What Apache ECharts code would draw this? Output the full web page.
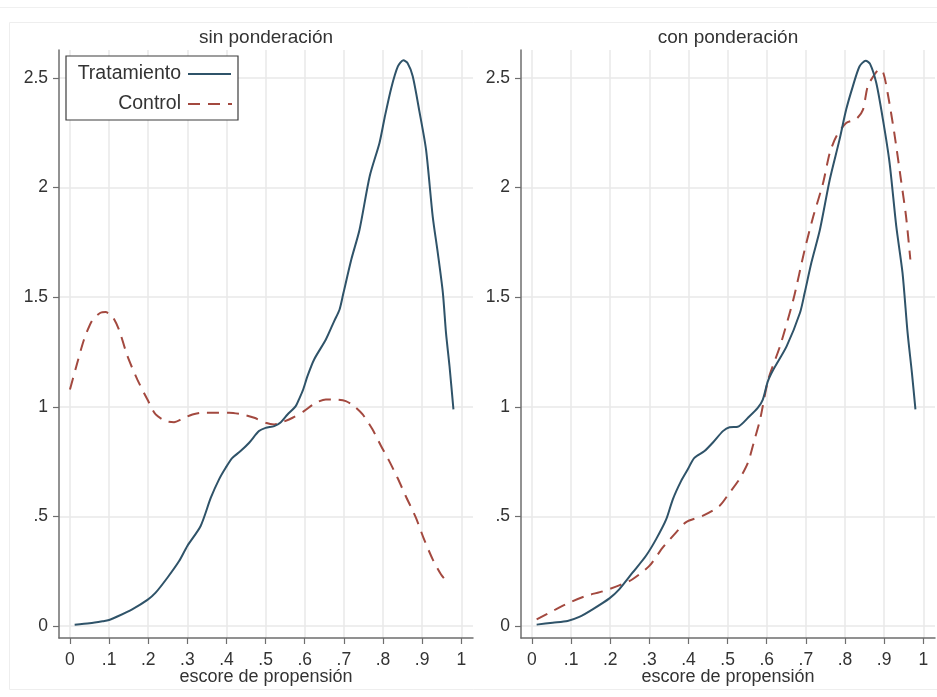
<!DOCTYPE html>
<html>
<head>
<meta charset="utf-8">
<script src="https://cdn.jsdelivr.net/npm/echarts@6/dist/echarts.min.js"></script>
<style>
html,body{margin:0;padding:0;background:#fff;}
#chart{width:937px;height:697px;}
</style>
</head>
<body>
<div id="chart"></div>
<script>
// ---- data ----
const panelTitles = ['sin ponderación', 'con ponderación'];
const seriesNames = ['Tratamiento', 'Control'];
const xTicks = [0, 0.1, 0.2, 0.3, 0.4, 0.5, 0.6, 0.7, 0.8, 0.9, 1];
const yTicks = [0, 0.5, 1, 1.5, 2, 2.5];
const xAxisTitle = 'escore de propensión';

const tratSin = [[0.012,0.006],[0.05,0.012],[0.083,0.021],[0.1,0.027],[0.121,0.043],[0.159,0.076],[0.198,0.119],[0.219,0.152],[0.249,0.22],[0.279,0.296],[0.3,0.365],[0.334,0.456],[0.36,0.585],[0.381,0.669],[0.398,0.722],[0.415,0.767],[0.436,0.798],[0.458,0.836],[0.483,0.889],[0.5,0.904],[0.522,0.912],[0.539,0.93],[0.556,0.965],[0.577,1.003],[0.587,1.041],[0.596,1.079],[0.607,1.14],[0.624,1.216],[0.654,1.307],[0.675,1.39],[0.689,1.444],[0.699,1.52],[0.719,1.672],[0.74,1.808],[0.766,2.052],[0.791,2.204],[0.804,2.318],[0.821,2.454],[0.838,2.553],[0.852,2.581],[0.863,2.568],[0.876,2.508],[0.893,2.348],[0.91,2.173],[0.927,1.869],[0.94,1.702],[0.953,1.52],[0.961,1.337],[0.97,1.185],[0.98,0.988]];

const ctrlSin = [[0.0,1.079],[0.014,1.17],[0.036,1.307],[0.057,1.395],[0.078,1.429],[0.091,1.432],[0.108,1.413],[0.125,1.353],[0.147,1.231],[0.172,1.125],[0.198,1.033],[0.219,0.965],[0.245,0.935],[0.266,0.93],[0.287,0.945],[0.313,0.965],[0.338,0.973],[0.373,0.973],[0.407,0.973],[0.441,0.965],[0.471,0.95],[0.5,0.927],[0.522,0.919],[0.543,0.93],[0.569,0.95],[0.598,0.98],[0.628,1.018],[0.654,1.033],[0.679,1.033],[0.705,1.026],[0.726,1.003],[0.748,0.965],[0.773,0.897],[0.795,0.821],[0.816,0.752],[0.837,0.676],[0.858,0.593],[0.884,0.494],[0.905,0.395],[0.927,0.304],[0.948,0.236],[0.968,0.19]];

const tratCon = [[0.012,0.006],[0.053,0.015],[0.091,0.023],[0.121,0.041],[0.155,0.076],[0.198,0.126],[0.223,0.167],[0.257,0.243],[0.291,0.319],[0.317,0.395],[0.343,0.486],[0.36,0.578],[0.381,0.661],[0.398,0.714],[0.415,0.767],[0.441,0.798],[0.462,0.836],[0.488,0.889],[0.505,0.907],[0.526,0.909],[0.556,0.957],[0.577,0.995],[0.59,1.033],[0.603,1.117],[0.617,1.17],[0.651,1.277],[0.685,1.429],[0.697,1.52],[0.714,1.657],[0.736,1.809],[0.761,2.036],[0.786,2.219],[0.803,2.356],[0.82,2.462],[0.837,2.553],[0.853,2.579],[0.864,2.565],[0.88,2.477],[0.897,2.31],[0.914,2.112],[0.931,1.824],[0.947,1.611],[0.96,1.337],[0.971,1.155],[0.98,0.988]];

const ctrlCon = [[0.012,0.03],[0.053,0.068],[0.095,0.106],[0.138,0.137],[0.181,0.158],[0.223,0.185],[0.257,0.213],[0.3,0.274],[0.334,0.357],[0.368,0.426],[0.394,0.474],[0.436,0.502],[0.479,0.547],[0.505,0.608],[0.53,0.669],[0.552,0.745],[0.569,0.851],[0.583,0.942],[0.604,1.125],[0.634,1.277],[0.668,1.489],[0.697,1.717],[0.719,1.869],[0.744,2.021],[0.761,2.158],[0.778,2.234],[0.803,2.295],[0.829,2.313],[0.846,2.356],[0.858,2.462],[0.875,2.515],[0.888,2.541],[0.898,2.523],[0.909,2.432],[0.926,2.249],[0.943,2.036],[0.956,1.869],[0.967,1.672]];

// ---- style ----
const FONT = 'Liberation Sans';
const TXT = '#333333';
const AXIS = '#6e6e6e';
const GRIDC = '#e9e9e9';
const C_T = '#2f5369';
const C_C = '#a3493f';
const DASH = [12, 8];

function fmt(v) {
  if (v === 0) return '0';
  if (v === 1) return '1';
  let s = String(+v.toFixed(2));
  return s.replace(/^0\./, '.');
}

function mkX(gi) {
  return {
    type: 'value', gridIndex: gi, min: -0.028, max: 1.03,
    name: xAxisTitle, nameLocation: 'middle', nameGap: 30, nameMoveOverlap: false,
    nameTextStyle: {fontFamily: FONT, fontSize: 18, color: TXT},
    axisLine: {show: true, onZero: false, lineStyle: {color: AXIS, width: 1.5}},
    axisTick: {show: true, length: 6, customValues: xTicks, lineStyle: {color: AXIS, width: 1.2}},
    axisLabel: {customValues: xTicks, margin: 13, fontFamily: FONT, fontSize: 17.5, color: TXT, formatter: fmt},
    splitLine: {show: true, lineStyle: {color: GRIDC, width: 1.5}}
  };
}
function mkY(gi) {
  return {
    type: 'value', gridIndex: gi, min: -0.055, max: 2.628,
    axisLine: {show: true, onZero: false, lineStyle: {color: AXIS, width: 1.5}},
    axisTick: {show: true, length: 6, customValues: yTicks, lineStyle: {color: AXIS, width: 1.2}},
    axisLabel: {customValues: yTicks, margin: 11, fontFamily: FONT, fontSize: 17.5, color: TXT, formatter: fmt},
    splitLine: {show: true, lineStyle: {color: GRIDC, width: 1.5}}
  };
}
function mkS(name, data, gi, color, dashed) {
  return {
    type: 'line', name: name, data: data, xAxisIndex: gi, yAxisIndex: gi,
    showSymbol: false, symbol: 'none', smooth: 0.25, silent: true,
    lineStyle: {color: color, width: 2, type: dashed ? DASH : 'solid'},
    z: dashed ? 3 : 4
  };
}

const chart = echarts.init(document.getElementById('chart'), null, {renderer: 'canvas'});
chart.setOption({
  animation: false,
  backgroundColor: '#ffffff',
  title: [
    {text: panelTitles[0], left: 266, top: 28, textAlign: 'center', padding: 0,
     textStyle: {fontFamily: FONT, fontSize: 19, fontWeight: 'normal', color: TXT}},
    {text: panelTitles[1], left: 728, top: 28, textAlign: 'center', padding: 0,
     textStyle: {fontFamily: FONT, fontSize: 19, fontWeight: 'normal', color: TXT}}
  ],
  grid: [
    {left: 59, top: 50, width: 414, height: 588, containLabel: false},
    {left: 521, top: 50, width: 414, height: 588, containLabel: false}
  ],
  xAxis: [mkX(0), mkX(1)],
  yAxis: [mkY(0), mkY(1)],
  series: [
    mkS(seriesNames[1], ctrlSin, 0, C_C, true),
    mkS(seriesNames[0], tratSin, 0, C_T, false),
    mkS(seriesNames[1], ctrlCon, 1, C_C, true),
    mkS(seriesNames[0], tratCon, 1, C_T, false)
  ],
  graphic: [
    {type: 'line', shape: {x1: 0, y1: 7.5, x2: 937, y2: 7.5}, style: {stroke: '#f0f0f0', lineWidth: 1}, silent: true},
    {type: 'rect', shape: {x: 9.5, y: 22.5, width: 940, height: 667}, style: {fill: 'none', stroke: '#eeeeee', lineWidth: 1}, silent: true, z: -1},
    {type: 'rect', shape: {x: 66, y: 56, width: 172, height: 64}, style: {fill: '#ffffff', stroke: '#3c3c3c', lineWidth: 1.2}, z: 10},
    {type: 'text', x: 181, y: 74, style: {text: seriesNames[0], fontFamily: FONT, fontSize: 19.5, fill: TXT, align: 'right', verticalAlign: 'middle'}, z: 11},
    {type: 'text', x: 181, y: 104, style: {text: seriesNames[1], fontFamily: FONT, fontSize: 19.5, fill: TXT, align: 'right', verticalAlign: 'middle'}, z: 11},
    {type: 'line', shape: {x1: 188, y1: 74, x2: 231, y2: 74}, style: {stroke: C_T, lineWidth: 2}, z: 11},
    {type: 'line', shape: {x1: 188, y1: 104, x2: 232, y2: 104}, style: {stroke: C_C, lineWidth: 2, lineDash: DASH}, z: 11}
  ]
});
</script>
</body>
</html>
